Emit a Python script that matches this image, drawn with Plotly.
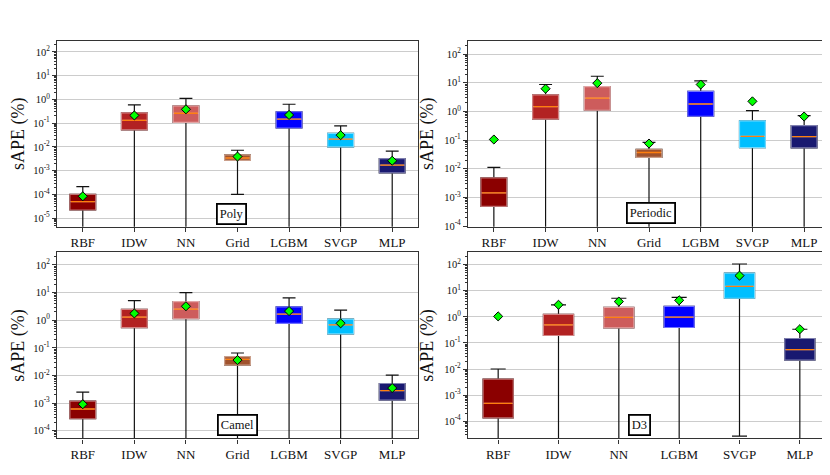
import numpy as np
import plotly.graph_objects as go

# ---------------- data ----------------
methods7 = ["RBF", "IDW", "NN", "Grid", "LGBM", "SVGP", "MLP"]
methods6 = ["RBF", "IDW", "NN", "LGBM", "SVGP", "MLP"]

# Poly
poly_low = [1e-8, 1e-8, 1e-8, 1.0e-4, 1e-8, 1e-8, 1e-8]
poly_q1 = [2.2e-5, 0.052, 0.107, 2.7e-3, 0.062, 0.010, 8.0e-4]
poly_med = [4.9e-5, 0.13, 0.26, 3.4e-3, 0.147, 0.021, 1.7e-3]
poly_q3 = [1.0e-4, 0.27, 0.53, 4.6e-3, 0.30, 0.037, 3.2e-3]
poly_high = [2.1e-4, 0.58, 1.1, 7.2e-3, 0.62, 0.077, 6.6e-3]
poly_mean = [8.3e-5, 0.21, 0.38, 3.9e-3, 0.22, 0.031, 2.6e-3]

# Periodic
per_low = [1e-8, 1e-8, 1e-8, 1e-8, 1e-8, 1e-8, 1e-8]
per_q1 = [4.9e-4, 0.54, 1.1, 0.025, 0.68, 0.055, 0.054]
per_med = [1.45e-3, 1.47, 2.9, 0.037, 1.82, 0.135, 0.132]
per_q3 = [4.8e-3, 3.8, 7.4, 0.048, 5.0, 0.47, 0.32]
per_high = [0.0112, 8.7, 16.9, 0.084, 11.7, 1.07, 0.72]
per_mean = [0.105, 6.2, 9.7, 0.076, 8.7, 2.25, 0.665]

# Camel
cam_low = [1e-8, 1e-8, 1e-8, 1e-8, 1e-8, 1e-8, 1e-8]
cam_q1 = [2.7e-4, 0.54, 1.13, 0.0235, 0.77, 0.32, 1.28e-3]
cam_med = [6.1e-4, 1.3, 2.5, 0.038, 1.67, 0.68, 2.84e-3]
cam_q3 = [1.18e-3, 2.45, 4.7, 0.048, 3.05, 1.1, 5.1e-3]
cam_high = [2.5e-3, 5.1, 9.95, 0.065, 6.4, 2.3, 0.0103]
cam_mean = [9.1e-4, 1.76, 3.2, 0.036, 2.14, 0.77, 3.5e-3]

# D3
d3_low = [1e-8, 1e-8, 1e-8, 1e-8, 2.7e-5, 1e-8]
d3_q1 = [1.35e-4, 0.193, 0.377, 0.39, 5.15, 0.022]
d3_med = [4.8e-4, 0.49, 0.955, 0.98, 14.7, 0.055]
d3_q3 = [4.1e-3, 1.24, 2.29, 2.5, 47.0, 0.148]
d3_high = [0.01, 2.9, 5.15, 5.6, 106.0, 0.335]
d3_mean = [1.04, 2.9, 3.85, 4.3, 38.0, 0.335]

panel_names = ["Poly", "Periodic", "Camel", "D3"]

colors = {
    "RBF": "#8B0000",
    "IDW": "#B22222",
    "NN": "#CD5C5C",
    "Grid": "#A0522D",
    "LGBM": "#0000FF",
    "SVGP": "#00BFFF",
    "MLP": "#191970",
}

# ---------------- layout geometry ----------------
W, H = 830, 475
xdom = [[49 / W, 410 / W], [460 / W, 822 / W]]
ydom = [[1 - 221 / H, 1 - 33 / H], [1 - 435 / H, 1 - 247 / H]]
yranges = [[-5.36, 2.47], [-4.02, 2.47], [-4.28, 2.455], [-4.66, 2.47]]
label_pos = [(0.482, 0.07), (0.505, 0.075), (0.50, 0.074), (0.475, 0.07)]

SERIF = "Liberation Serif, DejaVu Serif, serif"


def lighten(hexc, f=0.45):
    hexc = hexc.lstrip("#")
    r, g, b = [int(hexc[i:i + 2], 16) for i in (0, 2, 4)]
    r = int(r + (255 - r) * f)
    g = int(g + (255 - g) * f)
    b = int(b + (255 - b) * f)
    return f"rgb({r},{g},{b})"


panels = [
    (methods7, poly_low, poly_q1, poly_med, poly_q3, poly_high, poly_mean),
    (methods7, per_low, per_q1, per_med, per_q3, per_high, per_mean),
    (methods7, cam_low, cam_q1, cam_med, cam_q3, cam_high, cam_mean),
    (methods6, d3_low, d3_q1, d3_med, d3_q3, d3_high, d3_mean),
]

fig = go.Figure()
layout = {}

for p, (cats, lo, q1, med, q3, hi, mn) in enumerate(panels):
    row, col = p // 2, p % 2
    ax = "" if p == 0 else str(p + 1)
    xa, ya = "x" + ax, "y" + ax
    pw = (xdom[col][1] - xdom[col][0]) * W
    box_px = pw / len(cats) * 0.5

    for i, c in enumerate(cats):
        # whiskers (black)
        fig.add_trace(go.Box(
            x=[c], q1=[q1[i]], median=[med[i]], q3=[q3[i]],
            lowerfence=[lo[i]], upperfence=[hi[i]],
            width=0.5, whiskerwidth=0.5,
            line=dict(color="#111111", width=1.2),
            fillcolor="rgba(0,0,0,0)",
            boxpoints=False, hoverinfo="skip", showlegend=False,
            xaxis=xa, yaxis=ya,
        ))
        # box body
        fig.add_trace(go.Box(
            x=[c], q1=[q1[i]], median=[med[i]], q3=[q3[i]],
            lowerfence=[q1[i]], upperfence=[q3[i]],
            width=0.5, whiskerwidth=0,
            line=dict(color=lighten(colors[c]), width=1.2),
            fillcolor=colors[c],
            boxpoints=False, hoverinfo="skip", showlegend=False,
            xaxis=xa, yaxis=ya,
        ))
    # medians
    fig.add_trace(go.Scatter(
        x=cats, y=med, mode="markers",
        marker=dict(symbol="line-ew", size=(box_px - 2) / 1.4,
                    line=dict(color="#FF7F0E", width=1.3)),
        hoverinfo="skip", showlegend=False, xaxis=xa, yaxis=ya,
    ))
    # means
    fig.add_trace(go.Scatter(
        x=cats, y=mn, mode="markers",
        marker=dict(symbol="diamond", size=7, color="#00FF00",
                    line=dict(color="black", width=1)),
        hoverinfo="skip", showlegend=False, xaxis=xa, yaxis=ya,
    ))

    lo_dec = int(np.floor(yranges[p][0]))
    hi_dec = int(np.ceil(yranges[p][1]))
    majors = [10.0 ** k for k in range(lo_dec, hi_dec + 1)]
    minors = [m * 10.0 ** k for k in range(lo_dec - 1, hi_dec + 1) for m in range(2, 10)]
    ticktext = [f"10<sup>{k}</sup>" for k in range(lo_dec, hi_dec + 1)]

    layout["xaxis" + ax] = dict(
        domain=xdom[col], anchor=ya, type="category",
        categoryorder="array", categoryarray=cats,
        range=[-0.5, len(cats) - 0.5],
        showline=True, linecolor="#333333", linewidth=1.2, mirror=True,
        ticks="outside", ticklen=4, tickcolor="#333333",
        showgrid=False, tickfont=dict(family=SERIF, size=13, color="#111"),
        zeroline=False,
    )
    layout["yaxis" + ax] = dict(
        domain=ydom[row], anchor=xa, type="log", range=yranges[p],
        tickmode="array", tickvals=majors, ticktext=ticktext,
        showline=True, linecolor="#333333", linewidth=1.2, mirror=True,
        ticks="outside", ticklen=4, tickcolor="#333333",
        showgrid=True, gridcolor="#cccccc", gridwidth=1,
        minor=dict(tickmode="array", tickvals=minors, ticks="outside",
                   ticklen=2, tickcolor="#333333", showgrid=False),
        tickfont=dict(family=SERIF, size=10.5, color="#111"),
        title=dict(text="sAPE (%)", font=dict(family=SERIF, size=18, color="#111"),
                   standoff=5),
        zeroline=False,
    )

annotations = []
for p, name in enumerate(panel_names):
    ax = "" if p == 0 else str(p + 1)
    annotations.append(dict(
        text=name, x=label_pos[p][0], y=label_pos[p][1],
        xref=f"x{ax} domain", yref=f"y{ax} domain",
        showarrow=False, font=dict(family=SERIF, size=12.5, color="#111"),
        bordercolor="black", borderwidth=1.8, borderpad=2,
        bgcolor="white", xanchor="center", yanchor="middle",
    ))

fig.update_layout(
    width=W, height=H,
    margin=dict(l=0, r=0, t=0, b=0),
    paper_bgcolor="white", plot_bgcolor="white",
    boxmode="overlay",
    annotations=annotations,
    **layout,
)

fig.write_html("out.html")
